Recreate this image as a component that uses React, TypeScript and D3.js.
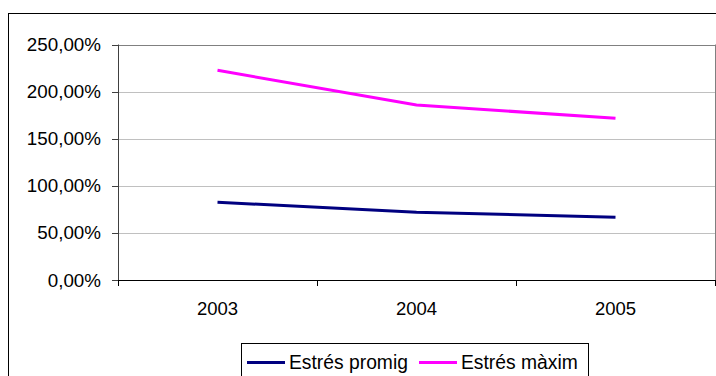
import React from 'react';
import * as d3 from 'd3';

// data
const years = ['2003', '2004', '2005'];
const estresPromig = [82.5, 71.9, 66.6];
const estresMaxim = [222.6, 185.8, 171.6];
const yTicks = [0, 50, 100, 150, 200, 250];

const series = [
  { name: 'Estrés promig', values: estresPromig, color: '#000080' },
  { name: 'Estrés màxim', values: estresMaxim, color: '#ff00ff' },
];

const W = 716;
const H = 376;
const plot = { left: 118, right: 715, top: 44.5, bottom: 280 };
const FONT = 'Liberation Sans, Arial, sans-serif';

const fmt = (v: number) => v.toFixed(2).replace('.', ',') + '%';

const App: React.FC = () => {
  const x = d3.scaleBand<string>().domain(years).range([plot.left, plot.right]);
  const y = d3.scaleLinear().domain([0, 250]).range([plot.bottom, plot.top]);

  const line = d3
    .line<number>()
    .x((_, i) => (x(years[i]) || 0) + x.bandwidth() / 2)
    .y(d => y(d));

  // boundaries between categories, where the x ticks go
  const xTickPos = [...years.map(c => x(c) || 0), plot.right];

  return (
    <div style={{ position: 'fixed', left: 0, top: 0 }}>
      <svg width={W} height={H} style={{ display: 'block', background: '#fff' }}>
        {/* outer chart border */}
        <rect x={8.5} y={13.5} width={W + 10} height={H + 10} fill="#fff" stroke="#000" />

        {/* gridlines */}
        {yTicks.map(t => (
          <line
            key={'g' + t}
            x1={plot.left}
            x2={plot.right}
            y1={Math.round(y(t)) + 0.5}
            y2={Math.round(y(t)) + 0.5}
            stroke={t === 250 ? '#808080' : '#c0c0c0'}
            strokeWidth={1}
          />
        ))}
        {/* right border of plot */}
        <line x1={plot.right + 0.5} x2={plot.right + 0.5} y1={plot.top} y2={plot.bottom + 6} stroke="#808080" />

        {/* y axis */}
        <line x1={plot.left + 0.5} x2={plot.left + 0.5} y1={plot.top} y2={plot.bottom + 2} stroke="#404040" />
        {yTicks.map(t => (
          <g key={'y' + t}>
            <line x1={plot.left - 6} x2={plot.left} y1={Math.round(y(t)) + 0.5} y2={Math.round(y(t)) + 0.5} stroke="#404040" />
            <text
              x={plot.left - 17}
              y={y(t)}
              dy="0.35em"
              textAnchor="end"
              fontFamily={FONT}
              fontSize={18.8}
              fill="#000"
            >
              {fmt(t)}
            </text>
          </g>
        ))}

        {/* x axis */}
        <line x1={plot.left} x2={plot.right + 1} y1={plot.bottom + 0.5} y2={plot.bottom + 0.5} stroke="#000" />
        {xTickPos.map((p, i) => (
          <line key={'xt' + i} x1={Math.round(p) + 0.5} x2={Math.round(p) + 0.5} y1={plot.bottom} y2={plot.bottom + 6} stroke="#000" />
        ))}
        {years.map(c => (
          <text
            key={c}
            x={(x(c) || 0) + x.bandwidth() / 2}
            y={315}
            textAnchor="middle"
            fontFamily={FONT}
            fontSize={18.5}
            fill="#000"
          >
            {c}
          </text>
        ))}

        {/* series */}
        {series.map(s => (
          <path key={s.name} d={line(s.values) || ''} fill="none" stroke={s.color} strokeWidth={3} />
        ))}

        {/* legend */}
        <rect x={241.5} y={343.5} width={347} height={50} fill="#fff" stroke="#000" />
        {series.map((s, i) => {
          const lx = i === 0 ? 247 : 419;
          return (
            <g key={'l' + s.name}>
              <line x1={lx} x2={lx + 38} y1={362.5} y2={362.5} stroke={s.color} strokeWidth={3} />
              <text x={lx + 42} y={369} fontFamily={FONT} fontSize={19.3} fill="#000">
                {s.name}
              </text>
            </g>
          );
        })}
      </svg>
    </div>
  );
};

export default App;
